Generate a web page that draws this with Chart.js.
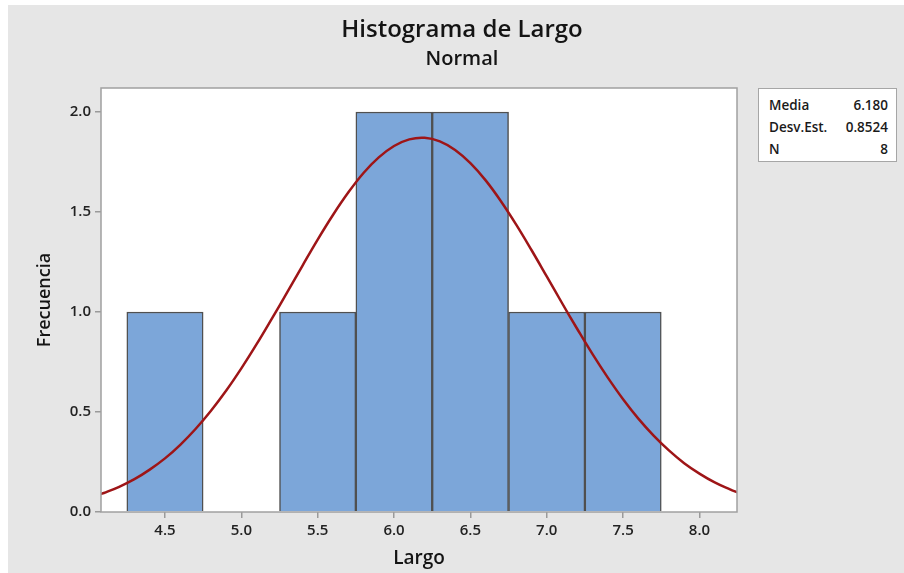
<!DOCTYPE html>
<html>
<head>
<meta charset="utf-8">
<script src="https://cdn.jsdelivr.net/npm/chart.js@4.4.1/dist/chart.umd.min.js"></script>
<style>
  html, body { margin: 0; padding: 0; background: #fff; }
  #wrap { position: relative; width: 904px; height: 573px; overflow: hidden; }
  #bg { position: absolute; left: 8px; top: 5px; right: 0; bottom: 0; background: #e6e6e6; }
  #chart { position: absolute; left: 0; top: 0; }
  .ttl {
    position: absolute; left: 262px; width: 400px; text-align: center;
    font-family: 'Open Sans', sans-serif; font-weight: 600; color: #141414; white-space: nowrap;
  }
  #t1 { top: 12px; font-size: 24px; line-height: 32px; }
  #t2 { top: 45px; font-size: 20px; line-height: 26px; }
  #stats {
    position: absolute; left: 758px; top: 88px; width: 137px; height: 72px;
    background: #fff; border: 1px solid #a6a6a6;
    font-family: 'Open Sans', sans-serif; font-weight: 600; font-size: 13.5px; color: #1a1a1a;
  }
  #stats .row { position: absolute; left: 10px; right: 8px; height: 18px; line-height: 18px; }
  #stats .row span:last-child { position: absolute; right: 0; }
</style>
</head>
<body>
<div id="wrap">
  <div id="bg"></div>
  <canvas id="chart" width="904" height="573"></canvas>
  <div class="ttl" id="t1">Histograma de Largo</div>
  <div class="ttl" id="t2">Normal</div>
  <div id="stats"></div>
</div>
<script>
// histogram bins (midpoints) and counts
const binMids = [4.5, 5.0, 5.5, 6.0, 6.5, 7.0, 7.5];
const counts = [1, 0, 1, 2, 2, 1, 1];

// fitted normal curve
const curveX = [4.08, 4.1, 4.2, 4.3, 4.4, 4.5, 4.6, 4.7, 4.8, 4.9, 5.0, 5.1, 5.2, 5.3, 5.4, 5.5,
  5.6, 5.7, 5.8, 5.9, 6.0, 6.1, 6.2, 6.3, 6.4, 6.5, 6.6, 6.7, 6.8, 6.9, 7.0, 7.1, 7.2, 7.3,
  7.4, 7.5, 7.6, 7.7, 7.8, 7.9, 8.0, 8.1, 8.2, 8.25];
const curveY = [0.090, 0.095, 0.126, 0.164, 0.212, 0.268, 0.336, 0.415, 0.505, 0.606, 0.718,
  0.839, 0.967, 1.098, 1.231, 1.362, 1.485, 1.597, 1.695, 1.773, 1.830, 1.863, 1.871, 1.853,
  1.810, 1.744, 1.658, 1.554, 1.437, 1.310, 1.178, 1.045, 0.915, 0.789, 0.672, 0.564, 0.467,
  0.382, 0.308, 0.244, 0.192, 0.148, 0.113, 0.098];

const xTicks = [4.5, 5.0, 5.5, 6.0, 6.5, 7.0, 7.5, 8.0];
const yTicks = [0, 0.5, 1.0, 1.5, 2.0];

const statLabels = ['Media', 'Desv.Est.', 'N'];
const statValues = ['6.180', '0.8524', '8'];

// stats box
const box = document.getElementById('stats');
statLabels.forEach((lab, i) => {
  const r = document.createElement('div');
  r.className = 'row';
  r.style.top = (7 + i * 22) + 'px';
  r.innerHTML = '<span>' + lab + '</span><span>' + statValues[i] + '</span>';
  box.appendChild(r);
});

const FONT = "'Open Sans', sans-serif";

const plotFrame = {
  id: 'plotFrame',
  beforeDraw(chart) {
    const a = chart.chartArea, ctx = chart.ctx;
    ctx.save();
    ctx.fillStyle = '#ffffff';
    ctx.fillRect(a.left, a.top, a.right - a.left, a.bottom - a.top);
    ctx.restore();
  },
  afterDraw(chart) {
    const a = chart.chartArea, ctx = chart.ctx;
    ctx.save();
    ctx.strokeStyle = '#a0a0a0';
    ctx.lineWidth = 1.5;
    ctx.strokeRect(a.left, a.top, a.right - a.left, a.bottom - a.top);
    ctx.restore();
  }
};

new Chart(document.getElementById('chart'), {
  type: 'bar',
  data: {
    datasets: [
      {
        type: 'line',
        data: curveX.map((x, i) => ({ x: x, y: curveY[i] })),
        borderColor: '#9e1517',
        borderWidth: 2.5,
        pointRadius: 0,
        tension: 0.4,
        fill: false,
        order: 0
      },
      {
        type: 'bar',
        data: binMids.map((x, i) => ({ x: x, y: counts[i] })),
        backgroundColor: '#7ca6d9',
        borderColor: '#505050',
        borderWidth: 1.5,
        borderSkipped: 'bottom',
        barPercentage: 1,
        categoryPercentage: 1,
        order: 1
      }
    ]
  },
  options: {
    responsive: false,
    animation: false,
    layout: { padding: { top: 88, right: 167, bottom: 2, left: 30 } },
    plugins: {
      legend: { display: false },
      tooltip: { enabled: false }
    },
    scales: {
      x: {
        type: 'linear',
        offset: false,
        min: 4.081,
        max: 8.246,
        afterBuildTicks: (s) => { s.ticks = xTicks.map(v => ({ value: v })); },
        afterFit: (s) => { s.height = 59; },
        ticks: {
          color: '#222',
          padding: 4,
          font: { family: FONT, size: 15, weight: '600' },
          callback: (v) => v.toFixed(1)
        },
        grid: { offset: false, drawOnChartArea: false, drawTicks: true, tickLength: 6, color: '#9a9a9a', lineWidth: 1.5 },
        border: { display: false },
        title: {
          display: true,
          text: 'Largo',
          color: '#141414',
          padding: 1,
          font: { family: FONT, size: 19, weight: '600' }
        }
      },
      y: {
        min: 0,
        max: 2.12,
        afterBuildTicks: (s) => { s.ticks = yTicks.map(v => ({ value: v })); },
        afterFit: (s) => { s.width = 71; },
        ticks: {
          color: '#222',
          padding: 4,
          font: { family: FONT, size: 15, weight: '600' },
          callback: (v) => v.toFixed(1)
        },
        grid: { offset: false, drawOnChartArea: false, drawTicks: true, tickLength: 6, color: '#9a9a9a', lineWidth: 1.5 },
        border: { display: false },
        title: {
          display: true,
          text: 'Frecuencia',
          color: '#141414',
          font: { family: FONT, size: 18, weight: '600' }
        }
      }
    }
  },
  plugins: [plotFrame]
});
</script>
</body>
</html>
